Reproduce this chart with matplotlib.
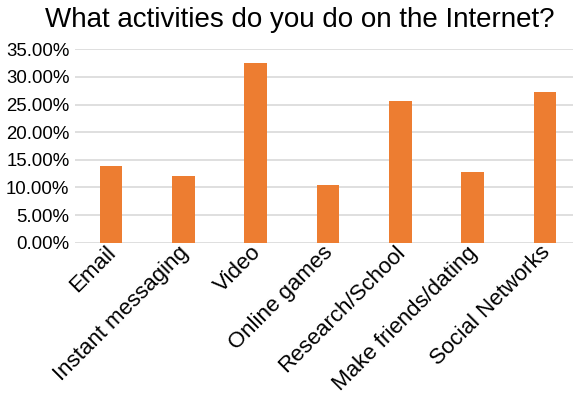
import matplotlib
matplotlib.use("Agg")
import matplotlib.pyplot as plt
from matplotlib.ticker import FuncFormatter
from matplotlib.transforms import ScaledTranslation

plt.rcParams['font.family'] = ['Liberation Sans', 'DejaVu Sans']

categories = ["Email", "Instant messaging", "Video", "Online games",
              "Research/School", "Make friends/dating", "Social Networks"]
shares = [13.9, 12.1, 32.5, 10.5, 25.7, 12.8, 27.3]
y_ticks = [0, 5, 10, 15, 20, 25, 30, 35]

W, H = 573, 394
fig = plt.figure(figsize=(W / 100, H / 100), dpi=100)
ax = fig.add_axes([75 / W, (H - 242.7) / H, (581 - 75) / W, 193.4 / H])

x = range(len(categories))
ax.bar(x, shares, width=0.314, color="#ED7D31", zorder=3)

ax.set_xlim(-0.5, len(categories) - 0.5)
ax.set_ylim(0, 35)
ax.set_yticks(y_ticks)
ax.yaxis.set_major_formatter(FuncFormatter(lambda v, _: f"{v:.2f}%"))
ax.grid(axis="y", color="#d9d9d9", linewidth=1.2, zorder=0)
ax.tick_params(axis="both", length=0)
ax.tick_params(axis="y", labelsize=13.4, pad=4)
for s in ax.spines.values():
    s.set_visible(False)

ax.set_xticks(list(x))
ax.set_xticklabels(categories, rotation=45, ha="right", va="center",
                   rotation_mode="anchor", fontsize=16)
ax.tick_params(axis="x", pad=5)
shift = ScaledTranslation(2 / 100, 0, fig.dpi_scale_trans)
for lbl in ax.get_xticklabels():
    lbl.set_transform(lbl.get_transform() + shift)

fig.text(300 / W, 1 - 20 / H, "What activities do you do on the Internet?",
         ha="center", va="center", fontsize=20)

fig.savefig("out.png", dpi=100)
